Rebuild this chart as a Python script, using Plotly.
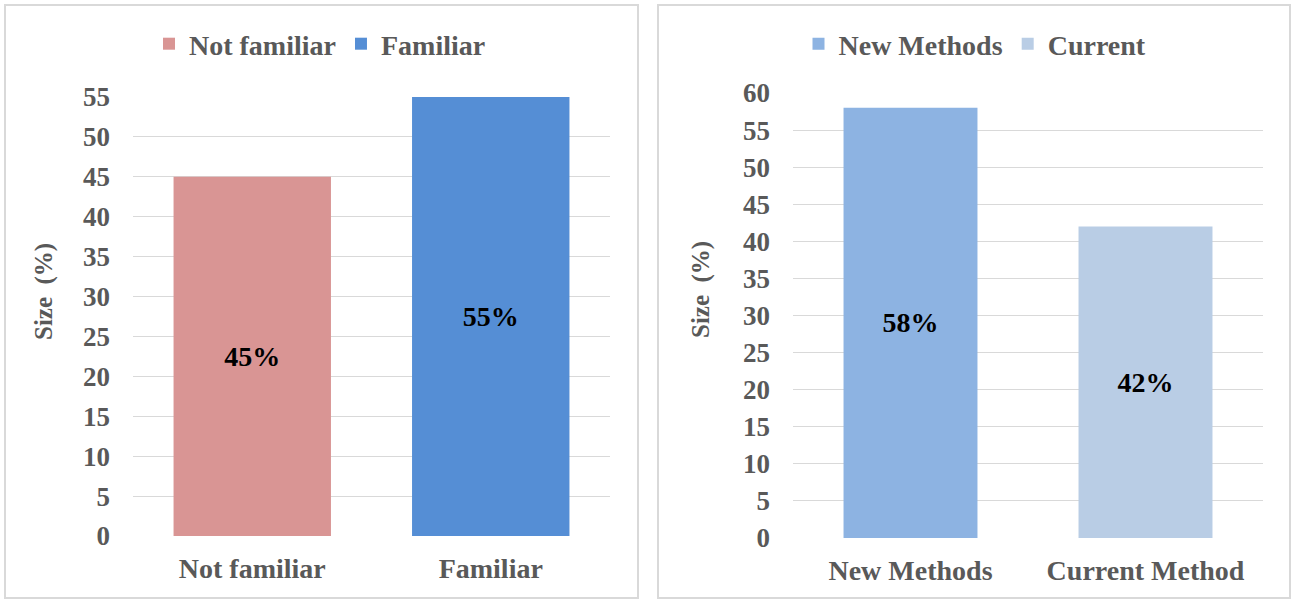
import plotly.graph_objects as go

# Left chart: familiarity
fam_categories = ["Not familiar", "Familiar"]
fam_series = ["Not familiar", "Familiar"]
fam_values = [45, 55]
fam_colors = ["#D99594", "#558ED5"]

# Right chart: methods
method_categories = ["New Methods", "Current Method"]
method_series = ["New Methods", "Current"]
method_values = [58, 42]
method_colors = ["#8DB3E2", "#B9CDE5"]

W, H = 1295, 601
FONT = "Liberation Serif"
GRAY = "#595959"
GRID = "#D9D9D9"


def px_x(v):
    return v / W


def px_y(v):
    return 1 - v / H


def font(size, color=GRAY):
    return dict(family=FONT, size=size, color=color, weight="bold")


fig = go.Figure()

for cat, name, val, col in zip(fam_categories, fam_series, fam_values, fam_colors):
    fig.add_trace(go.Bar(
        x=[cat], y=[val], name=name, marker=dict(color=col, line=dict(width=0)),
        text=[f"{val}%"], textposition="inside", insidetextanchor="middle",
        textfont=font(28, "black"), textangle=0,
        xaxis="x", yaxis="y", legend="legend", width=0.66,
    ))

for cat, name, val, col in zip(method_categories, method_series, method_values, method_colors):
    fig.add_trace(go.Bar(
        x=[cat], y=[val], name=name, marker=dict(color=col, line=dict(width=0)),
        text=[f"{val}%"], textposition="inside", insidetextanchor="middle",
        textfont=font(28, "black"), textangle=0,
        xaxis="x2", yaxis="y2", legend="legend2", width=0.57,
    ))

xcommon = dict(tickfont=font(28), showgrid=False, showline=False, ticks="",
               ticklabelstandoff=13, automargin=False)
ycommon = dict(dtick=5, tick0=0, tickfont=font(27), showgrid=True,
               gridcolor=GRID, gridwidth=1, zeroline=False, showline=False,
               ticks="", ticklabelstandoff=22, automargin=False)

fig.update_layout(
    width=W, height=H,
    margin=dict(l=0, r=0, t=0, b=0, autoexpand=False),
    paper_bgcolor="white", plot_bgcolor="white",
    barmode="overlay",
    font=font(24),
    xaxis=dict(domain=[px_x(133), px_x(610)], anchor="y",
               categoryorder="array", categoryarray=fam_categories, **xcommon),
    yaxis=dict(domain=[px_y(536), px_y(97)], anchor="x", range=[0, 55], **ycommon),
    xaxis2=dict(domain=[px_x(793), px_x(1263)], anchor="y2",
                categoryorder="array", categoryarray=method_categories, **xcommon),
    yaxis2=dict(domain=[px_y(538), px_y(93)], anchor="x2", range=[0, 60], **ycommon),
    legend=dict(orientation="h", x=px_x(320), xanchor="center",
                y=px_y(44), yanchor="middle", font=font(28),
                itemwidth=30, tracegroupgap=0, bgcolor="rgba(0,0,0,0)"),
    legend2=dict(orientation="h", x=px_x(975), xanchor="center",
                 y=px_y(44), yanchor="middle", font=font(28),
                 itemwidth=30, tracegroupgap=0, bgcolor="rgba(0,0,0,0)"),
    showlegend=True,
)

# Y-axis titles
for xc, yc in [(44, 292), (701, 290)]:
    fig.add_annotation(
        x=px_x(xc), y=px_y(yc), xref="paper", yref="paper",
        text="Size&#160;&#160;(%)", textangle=-90, showarrow=False,
        font=font(25), xanchor="center", yanchor="middle",
    )

# Chart-area borders
for x0, x1 in [(5, 638), (658, 1290)]:
    fig.add_shape(
        type="rect", xref="paper", yref="paper",
        x0=px_x(x0), x1=px_x(x1), y0=px_y(598), y1=px_y(5),
        line=dict(color=GRID, width=2), fillcolor="rgba(0,0,0,0)",
        layer="below",
    )

fig.write_html("out.html")
